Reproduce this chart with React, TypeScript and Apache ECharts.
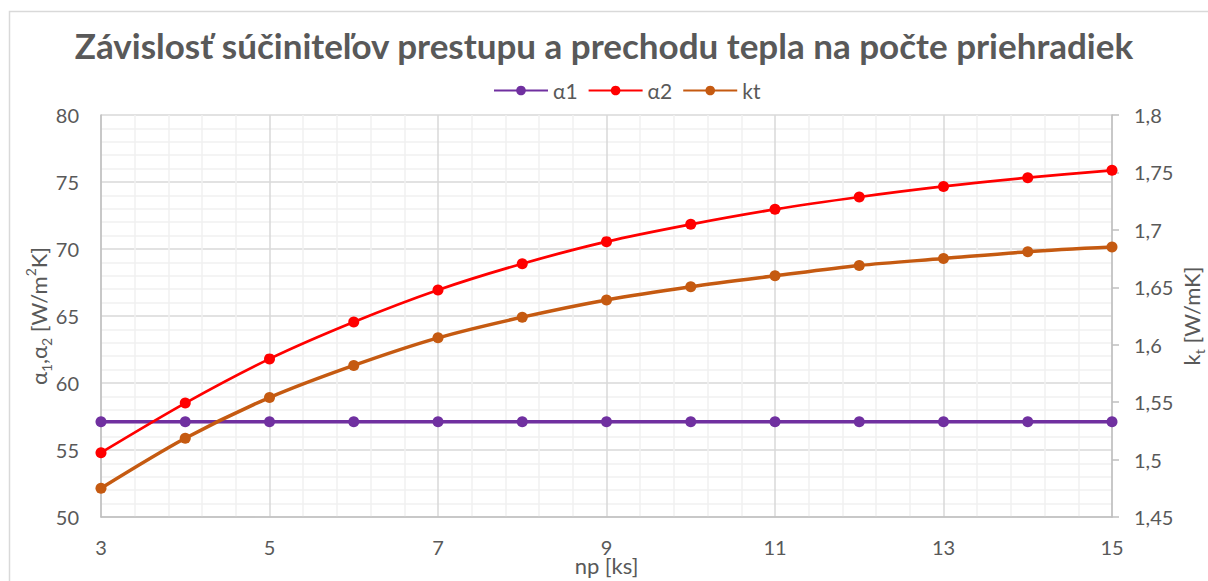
import React, { useEffect, useRef } from "react";
import * as echarts from "echarts";

const np = [3, 4, 5, 6, 7, 8, 9, 10, 11, 12, 13, 14, 15];
const alpha1 = [57.1, 57.1, 57.1, 57.1, 57.1, 57.1, 57.1, 57.1, 57.1, 57.1, 57.1, 57.1, 57.1];
const alpha2 = [54.8, 58.5, 61.8, 64.55, 66.94, 68.9, 70.55, 71.84, 72.96, 73.88, 74.67, 75.32, 75.87];
const kt = [1.475, 1.5185, 1.554, 1.582, 1.606, 1.624, 1.639, 1.6505, 1.66, 1.669, 1.675, 1.681, 1.685];

const TITLE = "Závislosť súčiniteľov prestupu a prechodu tepla na počte priehradiek";
const FONT = "Lato, 'Open Sans', sans-serif";
const GRAY = "#595959";

export default function App() {
  const ref = useRef<HTMLDivElement>(null);
  useEffect(() => {
    if (!ref.current) return;
    const chart = echarts.init(ref.current, undefined, { renderer: "svg" });
    const pair = (xs: number[], ys: number[]) => xs.map((x, i) => [x, ys[i]]);
    chart.setOption({
      animation: false,
      backgroundColor: "#ffffff",
      textStyle: { fontFamily: FONT, color: GRAY },
      title: {
        text: TITLE,
        left: "center",
        top: 22,
        textStyle: { fontFamily: FONT, fontSize: 35, fontWeight: "bold", color: GRAY },
      },
      legend: {
        top: 75,
        left: 488,
        itemWidth: 54,
        itemHeight: 12,
        itemGap: 10,
        textStyle: { fontFamily: FONT, fontSize: 21, color: GRAY },
        data: ["α1", "α2", "kt"],
      },
      graphic: [
        {
          type: "rect",
          left: 7,
          top: 9,
          shape: { width: 1220, height: 620 },
          style: { fill: "none", stroke: "#D9D9D9", lineWidth: 1.5 },
          silent: true,
        },
      ],
      grid: { left: 101, right: 96, top: 115, height: 402, containLabel: false, outerBoundsMode: "none" },
      xAxis: {
        type: "value",
        min: 3,
        max: 15,
        interval: 2,
        name: "np [ks]",
        nameLocation: "middle",
        nameGap: 37,
        nameMoveOverlap: false,
        nameTextStyle: { fontFamily: FONT, fontSize: 22, color: GRAY },
        axisLine: { show: true, lineStyle: { color: "#BFBFBF", width: 1.5 } },
        axisTick: { show: false },
        axisLabel: { fontFamily: FONT, fontSize: 20, color: GRAY, margin: 20 },
        splitLine: { show: true, lineStyle: { color: "#D9D9D9", width: 1.5 } },
        minorTick: { show: false, splitNumber: 5 },
        minorSplitLine: { show: true, lineStyle: { color: "#F0F0F0", width: 1.5 } },
      },
      yAxis: [
        {
          type: "value",
          min: 50,
          max: 80,
          interval: 5,
          name: "{a|α}{s|1}{a|,α}{s|2}{a| [W/m}{p|2}{a|K]}",
          nameLocation: "middle",
          nameRotate: 90,
          nameGap: 48,
          nameMoveOverlap: false,
          nameTextStyle: {
            fontFamily: FONT,
            color: GRAY,
            rich: {
              a: { fontFamily: FONT, fontSize: 22, color: GRAY, lineHeight: 30, verticalAlign: "middle" },
              s: { fontFamily: FONT, fontSize: 14, color: GRAY, lineHeight: 30, verticalAlign: "bottom" },
              p: { fontFamily: FONT, fontSize: 14, color: GRAY, lineHeight: 30, verticalAlign: "top" },
            },
          },
          axisLine: { show: true, lineStyle: { color: "#BFBFBF", width: 1.5 } },
          axisTick: { show: false },
          axisLabel: { fontFamily: FONT, fontSize: 20, color: GRAY, margin: 22 },
          splitLine: { show: true, lineStyle: { color: "#D9D9D9", width: 1.5 } },
          minorTick: { show: false, splitNumber: 5 },
          minorSplitLine: { show: true, lineStyle: { color: "#F0F0F0", width: 1.5 } },
        },
        {
          type: "value",
          min: 1.45,
          max: 1.8,
          interval: 0.05,
          position: "right",
          name: "{a|k}{s|t}{a| [W/mK]}",
          nameLocation: "middle",
          nameRotate: 90,
          nameGap: 64,
          nameMoveOverlap: false,
          nameTextStyle: {
            fontFamily: FONT,
            color: GRAY,
            rich: {
              a: { fontFamily: FONT, fontSize: 22, color: GRAY, lineHeight: 30, verticalAlign: "middle" },
              s: { fontFamily: FONT, fontSize: 14, color: GRAY, lineHeight: 30, verticalAlign: "bottom" },
            },
          },
          axisLine: { show: true, lineStyle: { color: "#BFBFBF", width: 1.5 } },
          axisTick: { show: true, inside: false, length: 7, lineStyle: { color: "#BFBFBF", width: 1.5 } },
          axisLabel: {
            fontFamily: FONT,
            fontSize: 20,
            color: GRAY,
            margin: 22,
            formatter: (v: number) => String(Number(v.toFixed(2))).replace(".", ","),
          },
          splitLine: { show: false },
        },
      ],
      series: [
        {
          name: "α1",
          type: "line",
          yAxisIndex: 0,
          data: pair(np, alpha1),
          symbol: "circle",
          symbolSize: 11,
          lineStyle: { color: "#7030A0", width: 3.5 },
          itemStyle: { color: "#7030A0" },
          z: 3,
        },
        {
          name: "α2",
          type: "line",
          yAxisIndex: 0,
          data: pair(np, alpha2),
          symbol: "circle",
          symbolSize: 11,
          smooth: 0.3,
          lineStyle: { color: "#FF0000", width: 2.75 },
          itemStyle: { color: "#FF0000" },
          z: 4,
        },
        {
          name: "kt",
          type: "line",
          yAxisIndex: 1,
          data: pair(np, kt),
          symbol: "circle",
          symbolSize: 11,
          smooth: 0.3,
          lineStyle: { color: "#C55A11", width: 3.5 },
          itemStyle: { color: "#C55A11" },
          z: 5,
        },
      ],
    });
    return () => chart.dispose();
  }, []);
  return (
    <div
      ref={ref}
      style={{ position: "fixed", left: 0, top: 0, width: 1208, height: 581, background: "#fff" }}
    />
  );
}
